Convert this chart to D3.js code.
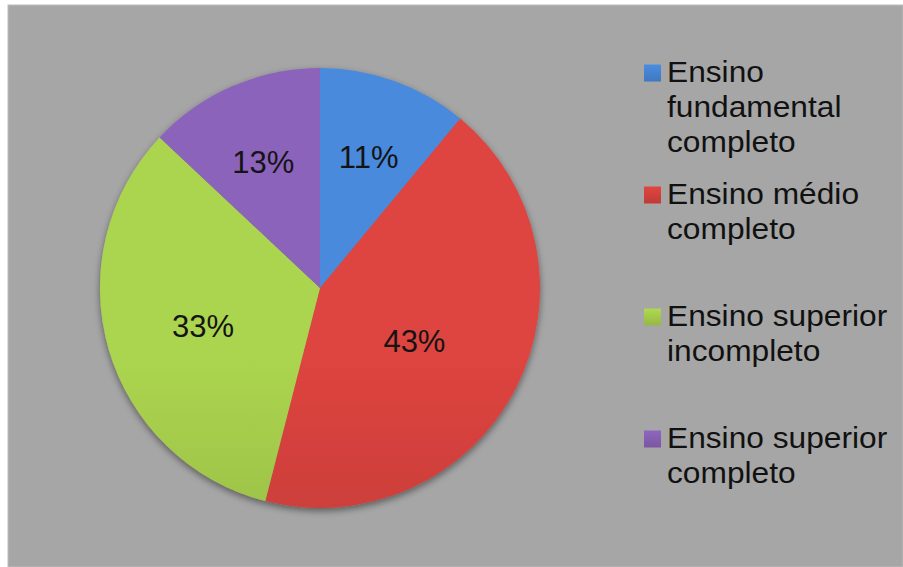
<!DOCTYPE html>
<html>
<head>
<meta charset="utf-8">
<script src="https://cdn.jsdelivr.net/npm/d3@7"></script>
<style>
  html, body { margin: 0; padding: 0; background: #ffffff; }
  svg { display: block; }
</style>
</head>
<body>
<svg id="chart" width="903" height="567"></svg>
<script>
// Escolaridade: share of respondents by education level
const categories = [
  ["Ensino", "fundamental", "completo"],
  ["Ensino médio", "completo"],
  ["Ensino superior", "incompleto"],
  ["Ensino superior", "completo"]
];
const values = [11, 43, 33, 13];
const colors = ["#4788d9", "#da433e", "#a9d14e", "#8a62b8"];

const W = 903, H = 567;
const svg = d3.select("#chart");
const defs = svg.append("defs");

// Panel background
svg.append("rect").attr("x", 0).attr("y", 0).attr("width", W).attr("height", H).attr("fill", "#ffffff");
svg.append("rect").attr("x", 8).attr("y", 5).attr("width", W - 8).attr("height", H - 5)
  .attr("fill", "#a6a6a6").attr("stroke", "#bdbdbd").attr("stroke-width", 1);

const cx = 320, cy = 288, R = 220;

// Soft shadow under the pie
const shadow = defs.append("filter").attr("id", "pieShadow")
  .attr("x", "-10%").attr("y", "-10%").attr("width", "120%").attr("height", "125%");
shadow.append("feDropShadow").attr("dx", 0).attr("dy", 3).attr("stdDeviation", 3.5)
  .attr("flood-color", "#000").attr("flood-opacity", 0.45);

// Vertical shading for each slice colour
colors.forEach((c, i) => {
  const g = defs.append("linearGradient").attr("id", "fill" + i)
    .attr("gradientUnits", "userSpaceOnUse")
    .attr("x1", 0).attr("y1", cy - R).attr("x2", 0).attr("y2", cy + R);
  g.append("stop").attr("offset", "0%").attr("stop-color", d3.color(c).brighter(0.05));
  g.append("stop").attr("offset", "100%").attr("stop-color", d3.color(c).darker(0.68));
  const s = defs.append("linearGradient").attr("id", "key" + i)
    .attr("x1", 0).attr("y1", 0).attr("x2", 0).attr("y2", 1);
  s.append("stop").attr("offset", "0%").attr("stop-color", d3.color(c).brighter(0.1));
  s.append("stop").attr("offset", "100%").attr("stop-color", d3.color(c).darker(0.35));
});

const pie = d3.pie().sort(null).value(d => d);
const arcs = pie(values);
const arc = d3.arc().innerRadius(0).outerRadius(R);

const pg = svg.append("g").attr("transform", `translate(${cx},${cy})`);
pg.append("g").attr("filter", "url(#pieShadow)")
  .selectAll("path").data(arcs).join("path")
  .attr("d", arc)
  .attr("fill", (d, i) => `url(#fill${i})`);

// Labels at the geometric centroid of each sector
const fmt = d => d + "%";
pg.selectAll("text").data(arcs).join("text")
  .attr("transform", d => {
    const a = (d.startAngle + d.endAngle) / 2;
    const half = (d.endAngle - d.startAngle) / 2;
    const r = 2 * R * Math.sin(half) / (3 * half);
    return `translate(${r * Math.sin(a)},${-r * Math.cos(a)})`;
  })
  .attr("text-anchor", "middle")
  .attr("dy", "0.5em")
  .attr("font-family", "'Liberation Sans', Arial, sans-serif")
  .attr("font-size", 31)
  .attr("fill", "#141414")
  .text(d => fmt(d.data));

// Legend
const legX = 644, legY0 = 81.5, legStep = 122, lineH = 35;
const lg = svg.append("g");
categories.forEach((lines, i) => {
  const by = legY0 + i * legStep;
  lg.append("rect").attr("x", legX).attr("y", by - 17).attr("width", 17).attr("height", 17)
    .attr("fill", `url(#key${i})`);
  lines.forEach((t, j) => {
    lg.append("text")
      .attr("transform", `translate(${legX + 23},${by + j * lineH}) scale(1.075,1)`)
      .attr("font-family", "'Liberation Sans', Arial, sans-serif")
      .attr("font-size", 29.5)
      .attr("fill", "#111111")
      .text(t);
  });
});
</script>
</body>
</html>
